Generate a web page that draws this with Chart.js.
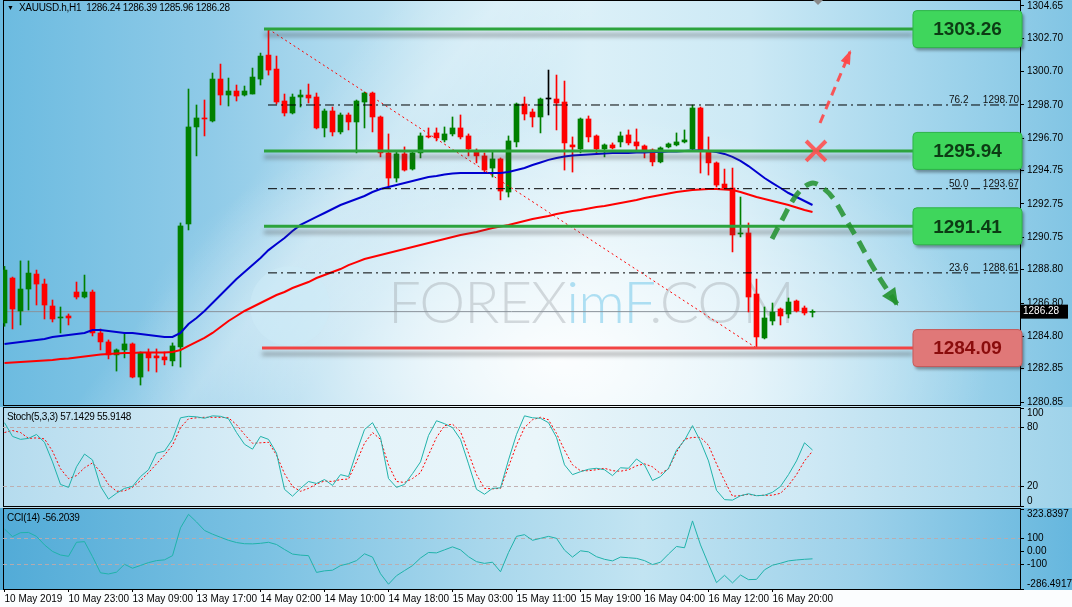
<!DOCTYPE html>
<html>
<head>
<meta charset="utf-8">
<title>XAUUSD.h H1</title>
<script src="https://cdn.jsdelivr.net/npm/chart.js"></script>
<style>
  html, body { margin: 0; padding: 0; }
  body { position: relative; width: 1072px; height: 607px; overflow: hidden; background: #fbfdfe;
         font-family: "Liberation Sans", Arial, sans-serif; }
  .abs { position: absolute; }
  #bgMain { left: 0; top: 0; width: 1072px; height: 407px;
    background:
      radial-gradient(ellipse 430px 250px at 560px 360px, rgba(255,255,255,0.92), rgba(255,255,255,0) 100%),
      linear-gradient(128deg, rgba(255,255,255,0) 28%, rgba(255,255,255,0.28) 36%, rgba(255,255,255,0) 44%),
      linear-gradient(90deg, #6cbbe0 0%, #90cbe8 20%, #c4e5f3 40%, #dbf0f8 55%, #cce9f5 70%, #a6d7ed 85%, #82c5e4 100%); }
  #bgStoch { left: 0; top: 407px; width: 1072px; height: 101px;
    background: linear-gradient(90deg, #b4dbee 0%, #e2f2f9 30%, #eaf6fa 50%, #cfe9f5 75%, #9fd3ea 100%); }
  #bgCci { left: 0; top: 508px; width: 1072px; height: 82px;
    background: linear-gradient(90deg, #52abd7 0%, #7cc2e3 25%, #a8d7ec 45%, #c2e4f2 60%, #9dd1ea 80%, #66b7de 100%); }
  .frame { position: absolute; border: 1px solid #000; box-sizing: border-box; }
  .wrap { position: absolute; left: 0; width: 1072px; }
  .lbl { position: absolute; font-size: 10px; letter-spacing: -0.3px; color: #000; white-space: pre; line-height: 12px; }
  #wm { left: 388px; top: 272px; font-family: Lato, "Open Sans", sans-serif; font-weight: 300;
        font-size: 58px; line-height: 58px; white-space: pre; letter-spacing: -1px; color: rgba(150,155,160,0.36); }
  #wm span { color: rgba(140,210,238,0.68); }
  #logo { left: 250px; top: 266px; width: 80px; height: 80px; border-radius: 50%;
          background: rgba(205,236,248,0.5); }
  #shift { left: 813px; top: 0; width: 0; height: 0; border-left: 5px solid transparent;
           border-right: 5px solid transparent; border-top: 5px solid #8a8a8a; }
</style>
</head>
<body>
<div id="bgMain" class="abs"></div>
<div id="bgStoch" class="abs"></div>
<div id="bgCci" class="abs"></div>
<div id="logo" class="abs"></div>
<div id="wm" class="abs">FOREX<span>imF</span>.COM</div>

<div class="frame" style="left:3px;top:0;width:1018px;height:406px"></div>
<div class="frame" style="left:3px;top:407px;width:1018px;height:100px"></div>
<div class="frame" style="left:3px;top:508px;width:1018px;height:82px"></div>

<div class="wrap" style="top:0;height:410px"><canvas id="main"></canvas></div>
<div class="wrap" style="top:400px;height:112px"><canvas id="stoch"></canvas></div>
<div class="wrap" style="top:500px;height:107px"><canvas id="cci"></canvas></div>

<div id="shift" class="abs"></div>
<div class="lbl" style="left:7px;top:2px;font-size:7px">&#9660;</div>
<div class="lbl" style="left:19px;top:2px">XAUUSD.h,H1  1286.24 1286.39 1285.96 1286.28</div>
<div class="lbl" style="left:7px;top:411px">Stoch(5,3,3) 57.1429 55.9148</div>
<div class="lbl" style="left:7px;top:512px">CCI(14) -56.2039</div>

<script>
// time axis: one label every 8 hourly bars
const timeLabels = ['10 May 2019', '10 May 23:00', '13 May 09:00', '13 May 17:00', '14 May 02:00',
  '14 May 10:00', '14 May 18:00', '15 May 03:00', '15 May 11:00', '15 May 19:00',
  '16 May 04:00', '16 May 12:00', '16 May 20:00'];
const labelEvery = 8;

const open = [1285.60,1288.30,1286.32,1287.64,1288.54,1287.94,1286.62,1285.90,1286.02,1287.46,
  1287.16,1287.46,1285.00,1284.46,1283.68,1283.98,1284.34,1282.35,1283.80,1283.62,
  1283.56,1283.32,1284.16,1291.55,1297.38,1297.92,1297.74,1300.26,1299.30,1299.54,
  1299.30,1299.36,1300.26,1301.70,1300.86,1298.94,1298.22,1299.18,1299.30,1299.18,
  1297.32,1298.34,1297.08,1298.10,1297.68,1298.88,1299.42,1297.98,1295.82,1294.31,
  1295.76,1294.85,1295.82,1296.84,1297.02,1296.60,1296.96,1297.32,1296.84,1295.88,
  1295.64,1294.91,1295.46,1293.47,1296.48,1298.76,1298.28,1297.98,1299.06,1299.06,
  1298.88,1296.30,1296.06,1297.86,1296.84,1296.06,1296.30,1296.48,1296.90,1296.48,
  1296.24,1296.00,1295.28,1296.18,1296.30,1296.48,1296.06,1298.52,1295.94,1295.22,
  1293.95,1293.71,1290.95,1291.01,1287.34,1284.70,1285.72,1286.44,1286.14,1286.92,
  1286.50,1286.24];
const high = [1289.00,1288.36,1289.33,1289.33,1288.78,1288.24,1286.98,1286.56,1286.14,1288.06,
  1288.48,1287.58,1285.24,1284.58,1284.04,1285.00,1284.40,1283.86,1284.04,1284.04,
  1283.86,1284.40,1291.61,1299.66,1298.70,1299.00,1300.62,1301.16,1300.32,1299.90,
  1299.84,1300.92,1301.82,1303.26,1301.64,1299.36,1299.36,1299.60,1299.96,1299.42,
  1298.46,1298.58,1298.22,1298.22,1299.00,1299.48,1299.48,1298.04,1296.96,1295.88,
  1296.18,1295.88,1297.02,1297.32,1297.32,1297.38,1297.98,1298.10,1296.96,1296.06,
  1295.82,1295.88,1295.52,1296.84,1298.82,1299.18,1298.46,1299.12,1300.80,1300.50,
  1300.14,1296.78,1297.92,1298.04,1296.90,1296.36,1296.42,1297.08,1297.20,1297.26,
  1296.30,1296.06,1296.18,1296.42,1297.02,1297.20,1298.70,1298.58,1296.78,1295.28,
  1294.85,1294.91,1293.17,1291.61,1288.24,1286.56,1286.80,1286.50,1287.10,1286.98,
  1286.62,1286.39];
const low = [1285.40,1285.24,1285.48,1286.38,1286.68,1285.84,1285.66,1285.00,1285.48,1287.04,
  1287.10,1284.82,1283.98,1283.44,1282.71,1283.50,1282.30,1281.87,1282.71,1282.65,
  1283.08,1283.02,1282.95,1291.19,1295.64,1296.84,1297.68,1298.70,1298.64,1298.94,
  1299.24,1299.36,1299.90,1300.50,1298.76,1298.04,1298.16,1298.58,1298.82,1297.26,
  1296.78,1296.84,1296.96,1297.20,1295.82,1297.32,1297.08,1295.58,1293.71,1294.07,
  1294.73,1294.79,1295.52,1296.72,1296.54,1296.48,1296.84,1296.66,1295.64,1295.22,
  1294.61,1294.37,1293.00,1293.17,1296.18,1297.80,1297.38,1297.02,1298.10,1297.20,
  1294.79,1294.67,1295.82,1296.48,1295.82,1295.58,1296.06,1296.18,1296.30,1296.00,
  1295.52,1295.04,1295.22,1296.12,1296.24,1296.42,1296.00,1294.61,1294.49,1293.77,
  1293.65,1289.87,1290.77,1286.26,1284.09,1284.64,1285.48,1285.48,1285.90,1286.26,
  1286.08,1285.96];
const close = [1288.78,1286.44,1287.64,1288.60,1287.94,1286.68,1285.84,1285.96,1285.90,1287.16,
  1287.46,1285.00,1284.46,1283.68,1283.98,1284.34,1282.35,1283.80,1283.50,1283.50,
  1283.38,1284.22,1291.43,1297.38,1297.92,1297.86,1300.26,1299.30,1299.54,1299.24,
  1299.54,1300.38,1301.64,1300.80,1298.88,1298.22,1299.18,1299.30,1299.12,1297.32,
  1298.34,1297.08,1298.10,1297.68,1298.94,1299.42,1297.98,1295.82,1294.31,1295.76,
  1294.79,1295.82,1296.84,1296.78,1296.72,1296.96,1297.32,1296.78,1296.06,1295.64,
  1294.79,1295.46,1293.53,1296.54,1298.76,1298.16,1297.98,1299.06,1299.06,1298.82,
  1296.42,1296.18,1297.86,1296.78,1296.06,1296.30,1296.12,1296.84,1296.42,1296.24,
  1296.00,1295.28,1296.12,1296.36,1296.48,1296.60,1298.52,1295.94,1295.22,1293.89,
  1293.71,1290.89,1291.01,1287.16,1284.76,1285.90,1286.26,1286.02,1286.86,1286.32,
  1286.20,1286.28];

// moving averages
const maFast = [1284.34,1284.40,1284.46,1284.52,1284.58,1284.64,1284.76,1284.82,1284.88,1284.94,
  1285.00,1285.18,1285.18,1285.12,1285.06,1285.00,1285.00,1284.94,1284.88,1284.82,
  1284.76,1284.76,1285.00,1285.54,1285.90,1286.32,1286.80,1287.28,1287.76,1288.24,
  1288.66,1289.08,1289.50,1289.98,1290.35,1290.71,1291.13,1291.49,1291.73,1291.97,
  1292.21,1292.45,1292.69,1292.87,1293.05,1293.23,1293.47,1293.65,1293.77,1293.89,
  1294.01,1294.13,1294.25,1294.37,1294.43,1294.52,1294.58,1294.61,1294.61,1294.61,
  1294.61,1294.61,1294.61,1294.67,1294.79,1294.91,1295.09,1295.24,1295.40,1295.52,
  1295.61,1295.67,1295.70,1295.73,1295.76,1295.79,1295.82,1295.82,1295.82,1295.85,
  1295.85,1295.88,1295.88,1295.91,1295.91,1295.94,1295.97,1295.97,1295.94,1295.88,
  1295.76,1295.58,1295.34,1295.03,1294.67,1294.31,1294.01,1293.71,1293.41,1293.17,
  1292.93,1292.69];
const maSlow = [1283.19,1283.22,1283.25,1283.28,1283.31,1283.34,1283.37,1283.43,1283.46,1283.52,
  1283.58,1283.64,1283.70,1283.73,1283.76,1283.79,1283.79,1283.82,1283.82,1283.82,
  1283.82,1283.85,1283.97,1284.22,1284.46,1284.70,1285.00,1285.36,1285.72,1286.02,
  1286.32,1286.56,1286.80,1287.04,1287.28,1287.46,1287.70,1287.88,1288.06,1288.30,
  1288.48,1288.66,1288.84,1289.08,1289.26,1289.44,1289.56,1289.68,1289.80,1289.92,
  1290.04,1290.16,1290.29,1290.41,1290.53,1290.65,1290.77,1290.89,1290.98,1291.07,
  1291.19,1291.31,1291.40,1291.49,1291.61,1291.73,1291.85,1291.94,1292.03,1292.15,
  1292.24,1292.33,1292.39,1292.48,1292.57,1292.63,1292.72,1292.81,1292.90,1292.99,
  1293.11,1293.20,1293.29,1293.38,1293.47,1293.53,1293.59,1293.62,1293.65,1293.65,
  1293.62,1293.59,1293.47,1293.32,1293.17,1293.05,1292.93,1292.81,1292.69,1292.54,
  1292.39,1292.27];

const stochMain = [85,71,68,69,73,65,45,22,19,40,
  53,47,20,7,13,18,20,30,37,54,
  56,68,90,91.5,91,89.5,92,91.5,89,75,
  63,58,71,68,54,17,10,18,25,23,
  27,21,32,30,55,78,85,70,28,19,
  22,33,45,72,87,84,80,68,43,17,
  12,18,18.5,47,73,92,90,89.5,85,70,
  42,32,35,37.5,38.5,37,31,39,38.5,48,
  42,26,30,38.5,57,67,82,66,46,16,
  6.5,6,10.5,12.5,10.5,11,14,20,32,46,
  64.5,57.14];
const stochSignal = [75,77,75,69,69.5,68.5,56,38,28,31,
  39,44,35,22,15,15.5,19,26,34,43,
  52,62,80,89,90,90.5,90.5,90.5,90,83,
  73,64,64.5,65,52,33,20,15,18,22.5,
  25.5,25,27,27.5,45,64,75,68,42,25,
  24,28,34,52,70,82,83.5,76,54,32,
  18,17.5,18,40,62,80,88,90.5,88,74,
  57,42,36,36,37,38.5,36,35.5,37,41,
  43,40,33,38,55,68,70,70,62,43,
  26,10,10.5,12,10.5,11,11,13,21,32,
  46,55.91];
const cci = [171,113,143,145,115,50,0,-27,-37,70,
  75,-40,-163,-172,-158,-98,-128,-107,-85,-70,
  -64,-32,180,283,225,160,132,108,85,68,
  59,58,62,70,53,15,-20,-28,-32,-160,
  -148,-143,-108,-93,-70,-18,-43,-170,-250,-185,
  -146,-108,-50,-8,-11,12,35,12,-40,-78,
  -91,-82,-155,-8,115,128,85,100,115,100,
  10,-43,5,-3,-40,-60,-72,-43,-48,-53,
  -70,-100,-82,-20,38,28,233,50,-97,-238,
  -182,-240,-180,-215,-213,-140,-105,-90,-72,-65,
  -60,-56.2];

// axis ticks
const priceTicks = [1304.65,1302.70,1300.70,1298.70,1296.70,1294.75,1292.75,1290.75,1288.80,1286.80,1284.80,1282.85,1280.85];
const priceMin = 1280.73, priceMax = 1304.95;
const stochTicks = [100, 80, 20, 0];
const stochTickLabels = ['100', '80', '20', '0'];
const stochLevels = [80, 20];
const cciTicks = [323.8397, 100, 0, -100, -286.4917];
const cciTickLabels = ['323.8397', '100', '0.00', '-100', '-286.4917'];
const cciLevels = [100, -100];

// drawn objects (bar index / price)
const levelPrices = [1303.26, 1295.94, 1291.41, 1284.09];
const levelFrom = [32.44, 32.44, 32.44, 32.19];
const levelTo = 113.56;
const levelSupport = [false, false, false, true];
const fibNames = ['76.2', '50.0', '23.6'];
const fibPrices = [1298.70, 1293.67, 1288.61];
const fibFrom = 32.94, fibNameAt = 118.06;
const fibBase = [{x: 33, y: 1303.26}, {x: 94, y: 1284.09}];
const lastPrice = 1286.28;
const upArrow = [{x: 101.94, y: 1297.62}, {x: 105.69, y: 1301.89}];
const crossMark = [{x: 101.44, y: 1295.94}];
const downCurve = [{x: 95.94, y: 1290.65}, {x: 97.19, y: 1291.79}, {x: 98.56, y: 1292.99},
  {x: 99.81, y: 1293.71}, {x: 101.06, y: 1294.01}, {x: 102.31, y: 1293.71}, {x: 103.56, y: 1293.11},
  {x: 105.06, y: 1291.91}, {x: 106.69, y: 1290.59}, {x: 108.19, y: 1289.27}, {x: 109.69, y: 1288.07},
  {x: 111.56, y: 1286.74}];

const xMin = -0.1875, xMax = 126.9375;

Chart.defaults.font.family = '"Liberation Sans", Arial, sans-serif';
Chart.defaults.font.size = 10;
Chart.defaults.color = '#000';

const candleColor = open.map((o, i) => close[i] > o ? '#008000' : close[i] < o ? '#ff0000' : '#000000');
const xy = (arr) => arr.map((v, i) => ({x: i, y: v}));
const hline = (y, from, to) => [{x: from, y: y}, {x: to, y: y}];

const fitRight = (scale) => { scale.width = 52; scale.paddingTop = 0; scale.paddingBottom = 0; };
const hiddenX = {type: 'linear', min: xMin, max: xMax, offset: false, display: false};

// MT4 keeps the first and last label of a sub-window inside the window
const edgeLabels = {
  id: 'edgeLabels',
  beforeDraw(chart) {
    const items = chart.scales.y.getLabelItems();
    if (!items.length) return;
    items[0].options.textBaseline = 'top';
    items[items.length - 1].options.textBaseline = 'bottom';
  }
};

const shadowPlugin = {
  id: 'shadow',
  beforeDatasetDraw(chart, args) {
    if (!chart.data.datasets[args.index].shadow) return;
    const c = chart.ctx;
    c.save();
    c.shadowColor = 'rgba(70,70,70,0.5)';
    c.shadowBlur = 4;
    c.shadowOffsetY = 6;
  },
  afterDatasetDraw(chart, args) {
    if (chart.data.datasets[args.index].shadow) chart.ctx.restore();
  }
};

const arrowPlugin = {
  id: 'arrows',
  afterDatasetsDraw(chart) {
    const c = chart.ctx;
    chart.data.datasets.forEach((ds, i) => {
      if (!ds.arrow) return;
      const pts = chart.getDatasetMeta(i).data;
      const a = pts[pts.length - 2], b = pts[pts.length - 1];
      const ang = Math.atan2(b.y - a.y, b.x - a.x);
      const {len, half, color} = ds.arrow;
      c.save();
      c.translate(b.x, b.y);
      c.rotate(ang);
      c.fillStyle = color;
      c.beginPath();
      c.moveTo(2, 0);
      c.lineTo(-len, -half);
      c.lineTo(-len, half);
      c.closePath();
      c.fill();
      c.restore();
    });
  }
};

const decorPlugin = {
  id: 'decor',
  afterDraw(chart) {
    const {ctx, chartArea, scales} = chart;
    const x = scales.x, y = scales.y;
    ctx.save();
    ctx.font = '10px "Liberation Sans", Arial, sans-serif';
    ctx.fillStyle = '#111';
    ctx.textBaseline = 'alphabetic';
    fibPrices.forEach((p, k) => {
      const py = y.getPixelForValue(p);
      ctx.textAlign = 'left';
      ctx.fillText(fibNames[k], x.getPixelForValue(fibNameAt), py - 2);
      ctx.textAlign = 'right';
      ctx.fillText(p.toFixed(2), chartArea.right - 1, py - 2);
    });

    levelPrices.forEach((p, k) => {
      const py = y.getPixelForValue(p);
      const x0 = x.getPixelForValue(levelTo), x1 = chartArea.right + 2;
      const h = 37, top = py - h / 2;
      const sup = levelSupport[k];
      ctx.save();
      ctx.shadowColor = 'rgba(0,0,0,0.35)';
      ctx.shadowBlur = 3;
      ctx.shadowOffsetX = 2;
      ctx.shadowOffsetY = 3;
      ctx.fillStyle = sup ? '#e07878' : '#3fd65c';
      ctx.beginPath();
      if (ctx.roundRect) ctx.roundRect(x0, top, x1 - x0, h, 4); else ctx.rect(x0, top, x1 - x0, h);
      ctx.fill();
      ctx.restore();
      ctx.strokeStyle = sup ? '#c65a5a' : '#2eb448';
      ctx.lineWidth = 1;
      ctx.stroke();
      ctx.font = 'bold 19px "Liberation Sans", Arial, sans-serif';
      ctx.textAlign = 'center';
      ctx.textBaseline = 'middle';
      ctx.fillStyle = sup ? '#8a0c0c' : '#0c3c14';
      ctx.fillText(p.toFixed(2), (x0 + x1) / 2, py + 1);
    });

    const ty = y.getPixelForValue(lastPrice);
    ctx.fillStyle = '#000';
    ctx.fillRect(chartArea.right + 1, ty - 7, 47, 14);
    ctx.fillStyle = '#fff';
    ctx.font = '10px "Liberation Sans", Arial, sans-serif';
    ctx.textAlign = 'left';
    ctx.textBaseline = 'middle';
    ctx.fillText(lastPrice.toFixed(2), chartArea.right + 3, ty);
    ctx.restore();
  }
};

const lineDs = (data, color, width, extra) => Object.assign({
  type: 'line', data: data, borderColor: color, borderWidth: width,
  pointRadius: 0, tension: 0, fill: false
}, extra || {});

const mainDatasets = [
  lineDs(hline(lastPrice, xMin, xMax), '#8a929a', 1, {order: 20}),
  {type: 'bar', data: open.map((o, i) => ({x: i, y: [low[i], high[i]]})),
   backgroundColor: candleColor, barThickness: 1, grouped: false, order: 12},
  {type: 'bar', data: open.map((o, i) => ({x: i, y: [o, close[i]]})),
   backgroundColor: candleColor, barThickness: 5, minBarLength: 1, grouped: false, order: 11},
  lineDs(xy(maSlow), '#ff0000', 2, {order: 9}),
  lineDs(xy(maFast), '#0000d0', 2, {order: 8}),
  lineDs(fibBase, '#ff0000', 1, {borderDash: [2, 3], order: 7})
];
fibPrices.forEach((p) => mainDatasets.push(
  lineDs(hline(p, fibFrom, xMax), '#000', 1, {borderDash: [9, 4, 2, 4], order: 6})));
levelPrices.forEach((p, k) => mainDatasets.push(
  lineDs(hline(p, levelFrom[k], levelTo), levelSupport[k] ? '#f24444' : '#2ca33d', 3,
         {shadow: true, order: 4})));
mainDatasets.push(
  lineDs(upArrow, 'rgba(255,70,70,0.9)', 3,
         {borderDash: [9, 6], order: 3, arrow: {len: 12, half: 5, color: 'rgba(255,70,70,0.95)'}}),
  lineDs(downCurve, 'rgba(34,145,45,0.85)', 5,
         {borderDash: [13, 8], tension: 0.35, order: 2, arrow: {len: 15, half: 8, color: 'rgba(34,145,45,0.9)'}}),
  lineDs(crossMark, 'rgba(255,80,80,0.9)', 4,
         {showLine: false, pointRadius: 14, pointStyle: 'crossRot', pointBorderWidth: 4,
          pointBorderColor: 'rgba(255,80,80,0.9)', order: 1})
);

new Chart(document.getElementById('main'), {
  type: 'bar',
  data: {datasets: mainDatasets},
  options: {
    responsive: true,
    maintainAspectRatio: false,
    animation: false,
    devicePixelRatio: 1,
    events: [],
    layout: {autoPadding: false, padding: {left: 3, top: 1, right: 0, bottom: 6}},
    plugins: {legend: {display: false}, tooltip: {enabled: false}},
    scales: {
      x: hiddenX,
      y: {
        position: 'right',
        min: priceMin,
        max: priceMax,
        afterBuildTicks: (s) => { s.ticks = priceTicks.map((v) => ({value: v})); },
        afterFit: fitRight,
        ticks: {callback: (v) => v.toFixed(2), padding: 3, autoSkip: false},
        grid: {drawOnChartArea: false, tickLength: 4, color: '#000'},
        border: {color: '#000'}
      }
    }
  },
  plugins: [shadowPlugin, arrowPlugin, decorPlugin]
});

const levelGrid = (levels) => ({
  color: (c) => levels.includes(c.tick.value) ? 'rgba(190,170,170,0.9)' : 'rgba(0,0,0,0)',
  tickColor: '#000',
  tickLength: 4
});

new Chart(document.getElementById('stoch'), {
  type: 'line',
  data: {datasets: [
    lineDs(xy(stochMain), '#20b2aa', 1),
    lineDs(xy(stochSignal), '#ff0000', 1, {borderDash: [2, 2]})
  ]},
  options: {
    responsive: true,
    maintainAspectRatio: false,
    animation: false,
    devicePixelRatio: 1,
    events: [],
    layout: {autoPadding: false, padding: {left: 3, top: 8, right: 0, bottom: 6}},
    plugins: {legend: {display: false}, tooltip: {enabled: false}},
    scales: {
      x: hiddenX,
      y: {
        position: 'right', min: 0, max: 100,
        afterBuildTicks: (s) => { s.ticks = stochTicks.map((v) => ({value: v})); },
        afterFit: fitRight,
        ticks: {callback: (v, i) => stochTickLabels[i], padding: 3, autoSkip: false},
        grid: levelGrid(stochLevels),
        border: {color: '#000', dash: [4, 3]}
      }
    }
  },
  plugins: [edgeLabels]
});

new Chart(document.getElementById('cci'), {
  type: 'line',
  data: {datasets: [lineDs(xy(cci), '#20b2aa', 1)]},
  options: {
    responsive: true,
    maintainAspectRatio: false,
    animation: false,
    devicePixelRatio: 1,
    events: [],
    layout: {autoPadding: false, padding: {left: 3, top: 9, right: 0, bottom: 0}},
    plugins: {legend: {display: false}, tooltip: {enabled: false}},
    scales: {
      x: {
        type: 'linear', min: xMin, max: xMax, offset: false,
        afterBuildTicks: (s) => { s.ticks = timeLabels.map((t, k) => ({value: k * labelEvery})); },
        afterFit: (s) => { s.height = 18; s.paddingLeft = 0; s.paddingRight = 0; },
        ticks: {callback: (v, i) => timeLabels[i], align: 'start', autoSkip: false, maxRotation: 0, padding: 1},
        grid: {drawOnChartArea: false, tickLength: 3, color: '#000'},
        border: {color: '#000'}
      },
      y: {
        position: 'right',
        min: cciTicks[cciTicks.length - 1],
        max: cciTicks[0],
        afterBuildTicks: (s) => { s.ticks = cciTicks.map((v) => ({value: v})); },
        afterFit: fitRight,
        ticks: {callback: (v, i) => cciTickLabels[i], padding: 3, autoSkip: false},
        grid: levelGrid(cciLevels),
        border: {color: '#000', dash: [4, 3]}
      }
    }
  },
  plugins: [edgeLabels]
});
</script>
</body>
</html>
